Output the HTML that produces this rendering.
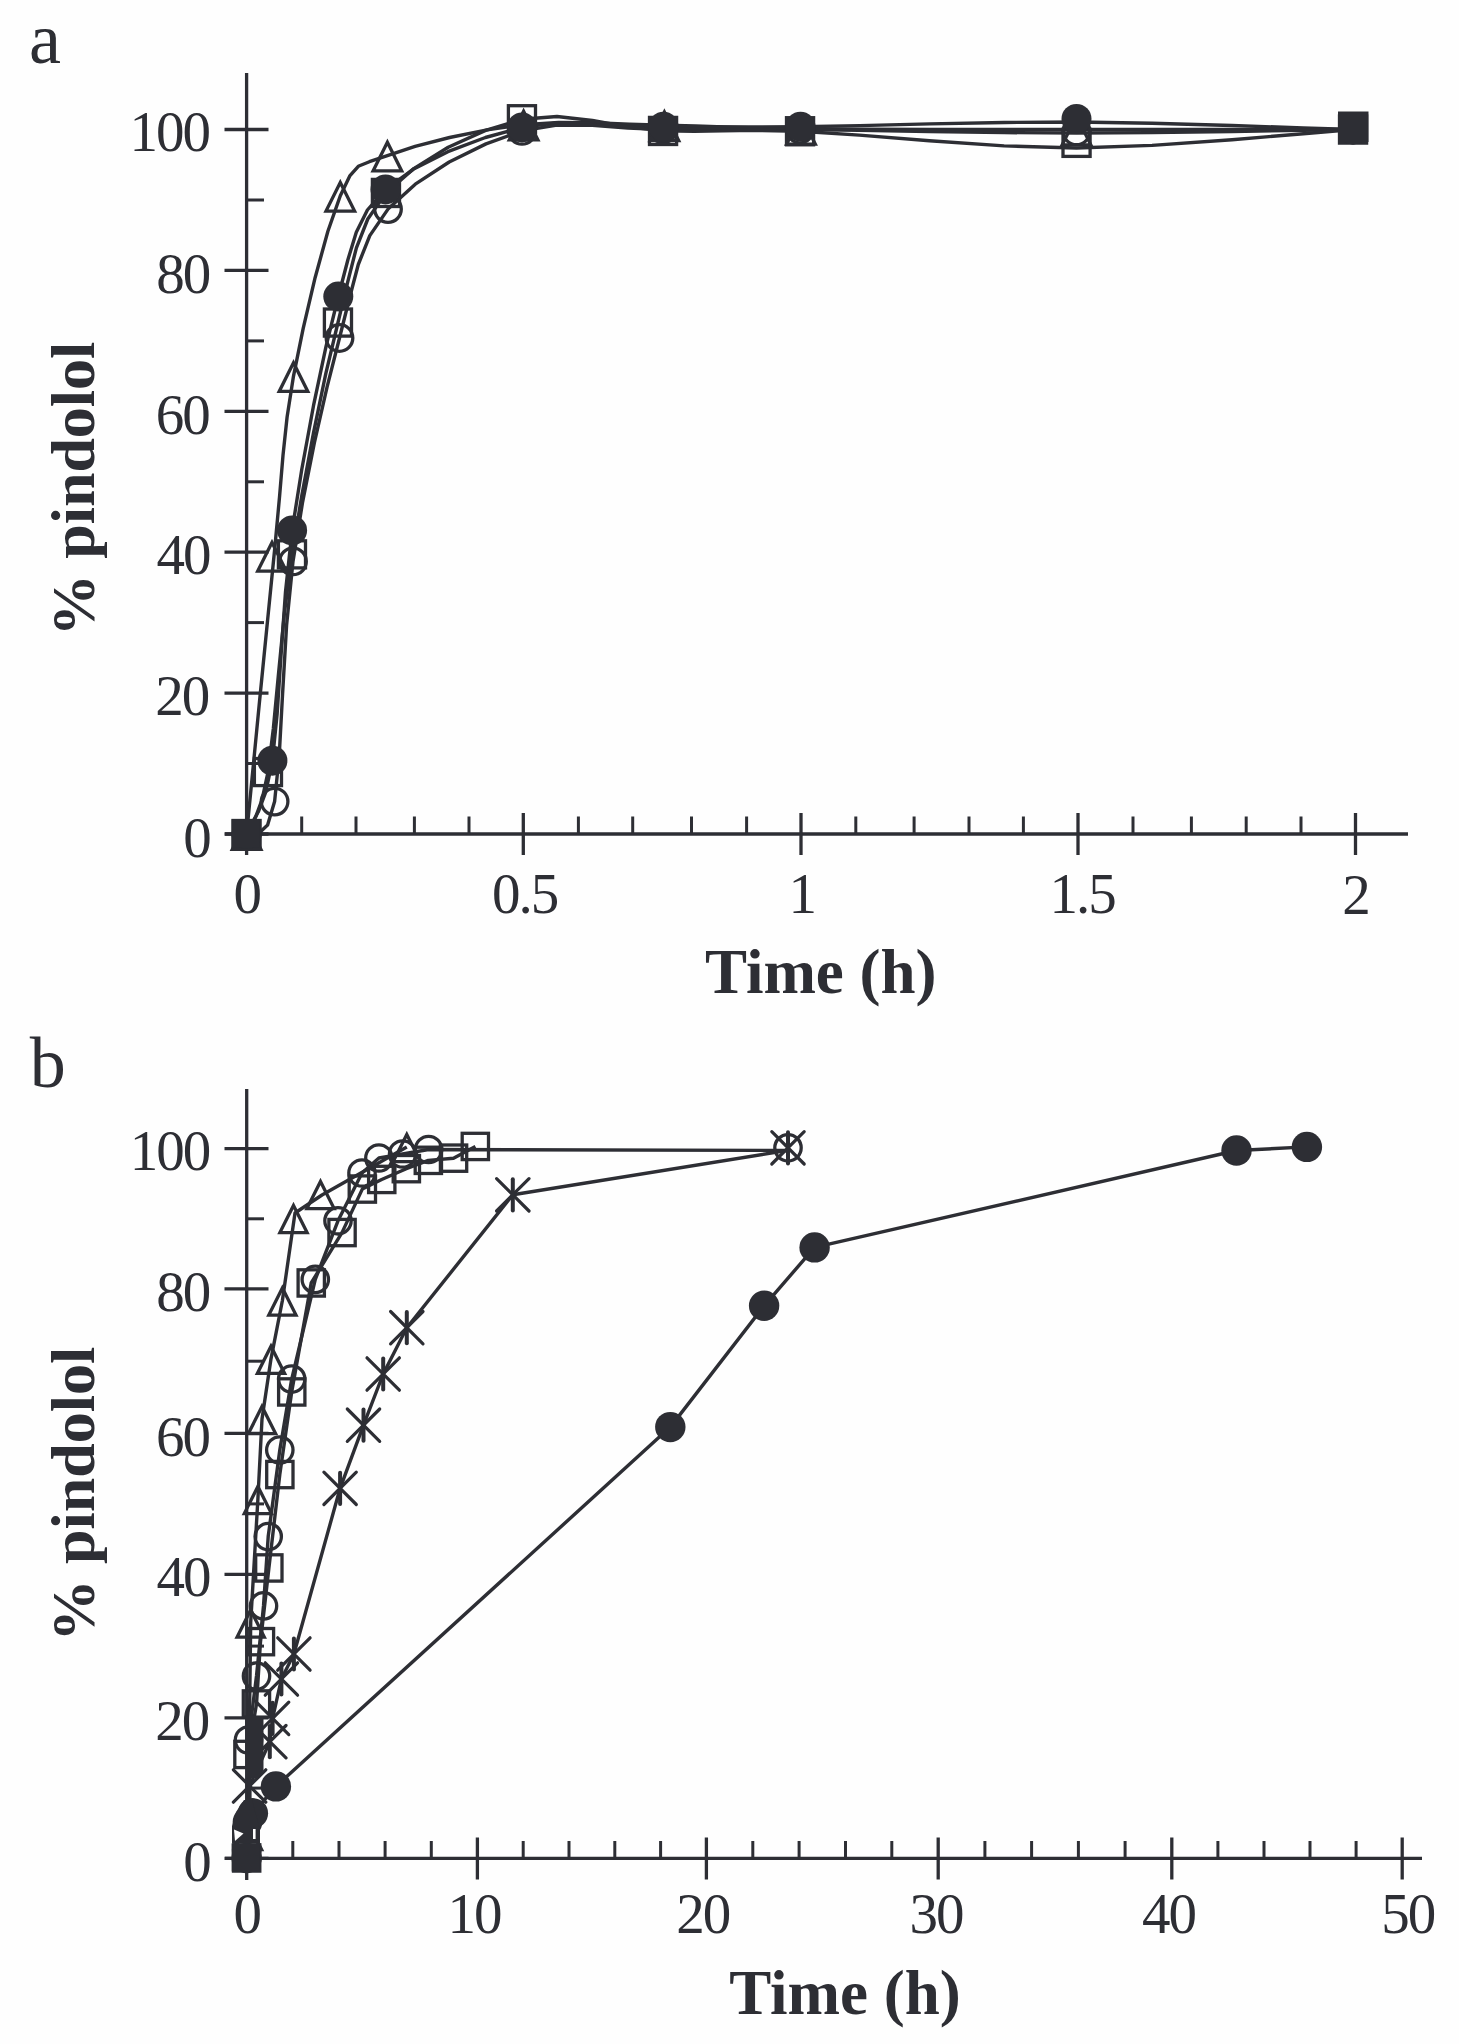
<!DOCTYPE html><html><head><meta charset="utf-8"><style>html,body{margin:0;padding:0;background:#fefefe;}svg{display:block;}text{font-family:"Liberation Serif",serif;fill:#2d2e34;}</style></head><body>
<div id="wrap"><svg width="1459" height="2044" viewBox="0 0 1459 2044">
<rect width="1459" height="2044" fill="#fefefe"/>
<g stroke="#2d2e34" stroke-linecap="butt" fill="none">
<line x1="246.6" y1="73" x2="246.6" y2="855" stroke-width="3.3"/>
<line x1="225" y1="834" x2="1408" y2="834" stroke-width="3.3"/>
<line x1="224.5" y1="834" x2="268.5" y2="834" stroke-width="3.3"/>
<line x1="224.5" y1="693.1" x2="268.5" y2="693.1" stroke-width="3.3"/>
<line x1="224.5" y1="552.2" x2="268.5" y2="552.2" stroke-width="3.3"/>
<line x1="224.5" y1="411.3" x2="268.5" y2="411.3" stroke-width="3.3"/>
<line x1="224.5" y1="270.4" x2="268.5" y2="270.4" stroke-width="3.3"/>
<line x1="224.5" y1="129.5" x2="268.5" y2="129.5" stroke-width="3.3"/>
<line x1="246.6" y1="763.5" x2="264" y2="763.5" stroke-width="3"/>
<line x1="246.6" y1="622.6" x2="264" y2="622.6" stroke-width="3"/>
<line x1="246.6" y1="481.8" x2="264" y2="481.8" stroke-width="3"/>
<line x1="246.6" y1="340.9" x2="264" y2="340.9" stroke-width="3"/>
<line x1="246.6" y1="200" x2="264" y2="200" stroke-width="3"/>
<line x1="301.7" y1="834" x2="301.7" y2="816.5" stroke-width="3"/>
<line x1="356" y1="834" x2="356" y2="816.5" stroke-width="3"/>
<line x1="414.4" y1="834" x2="414.4" y2="816.5" stroke-width="3"/>
<line x1="469" y1="834" x2="469" y2="816.5" stroke-width="3"/>
<line x1="578.4" y1="834" x2="578.4" y2="816.5" stroke-width="3"/>
<line x1="632.7" y1="834" x2="632.7" y2="816.5" stroke-width="3"/>
<line x1="691.5" y1="834" x2="691.5" y2="816.5" stroke-width="3"/>
<line x1="746.6" y1="834" x2="746.6" y2="816.5" stroke-width="3"/>
<line x1="855.8" y1="834" x2="855.8" y2="816.5" stroke-width="3"/>
<line x1="914.1" y1="834" x2="914.1" y2="816.5" stroke-width="3"/>
<line x1="969" y1="834" x2="969" y2="816.5" stroke-width="3"/>
<line x1="1023.4" y1="834" x2="1023.4" y2="816.5" stroke-width="3"/>
<line x1="1133" y1="834" x2="1133" y2="816.5" stroke-width="3"/>
<line x1="1191.4" y1="834" x2="1191.4" y2="816.5" stroke-width="3"/>
<line x1="1246.2" y1="834" x2="1246.2" y2="816.5" stroke-width="3"/>
<line x1="1301" y1="834" x2="1301" y2="816.5" stroke-width="3"/>
<line x1="523.3" y1="813" x2="523.3" y2="855" stroke-width="3.3"/>
<line x1="801" y1="813" x2="801" y2="855" stroke-width="3.3"/>
<line x1="1078" y1="813" x2="1078" y2="855" stroke-width="3.3"/>
<line x1="1355.5" y1="813" x2="1355.5" y2="855" stroke-width="3.3"/>
<path d="M246.6,834 L251.9,779.9 L259.5,701.7 L267.8,618.2 L274.8,548 L279.5,497.2 L283,455.4 L287.1,417 L293.5,376.1 L303.2,328.3 L315.1,277.7 L327.9,231.2 L340.3,195.7 L350,175.6 L358.3,166.3 L369.4,161.7 L387.4,155.6 L415.1,146.4 L449.6,137.5 L487.1,129.9 L523.6,124.6 L558.6,122.4 L594,122.8 L629.4,124.2 L664.4,125.3 L695.6,126 L724.3,127 L757.2,128 L801,128.8 L860.1,129.2 L930,129.4 L1004.3,129.4 L1076.5,129.5 L1152,129.5 L1232,129.5 L1303.3,129.5 L1353,129.5" stroke-width="3.4" fill="none" stroke-linejoin="round"/>
<path d="M246.6,834 L251.4,824.5 L258.3,811.8 L265.8,791.8 L272.4,760.7 L277.1,714.3 L281,655.6 L285.5,591.9 L292.1,530.4 L301.8,469.2 L313.5,405.7 L326.1,346.1 L338.3,296.5 L347.9,259.7 L356.3,232.2 L367.4,210 L385.5,189.4 L413.2,169.3 L447.9,151.7 L485.4,137.5 L522,127.4 L557.1,122.9 L592.7,123.2 L628.3,125.4 L663.5,126.7 L694.8,126.7 L723.6,126.9 L756.6,127 L800.5,126.7 L859.7,125.6 L929.8,123.9 L1004.2,122.5 L1076.5,122 L1152.1,123.2 L1232,125.5 L1303.3,127.9 L1353,129.5" stroke-width="3.4" fill="none" stroke-linejoin="round"/>
<path d="M246.6,834 L251.9,833 L259.4,832.8 L267.6,825.1 L274.6,801.6 L279.2,755.8 L282.6,693.4 L286.6,625.1 L293,561.4 L302.6,502.1 L314.4,442.7 L327.1,386.8 L339.5,338 L349.5,298 L358.3,264.5 L369.8,235.6 L388,209.1 L415.3,184.2 L449.2,162 L486,143.9 L522,130.9 L556.9,125.1 L592.3,125.3 L627.9,128 L663,129.5 L694.3,129.3 L723,129.2 L756,129.2 L800,129.5 L859.3,130.3 L929.5,131.5 L1004.1,132.6 L1076.5,133 L1152.1,132.6 L1232,131.5 L1303.3,130.3 L1353,129.5" stroke-width="3.4" fill="none" stroke-linejoin="round"/>
<path d="M246.6,834 L250.4,826.5 L255.8,816.6 L262,799.9 L268,772 L273.3,728.9 L278.5,673.8 L284.4,613.4 L292,554.3 L301.9,495 L313.5,432.9 L325.8,373.6 L338,322.5 L347.8,281.6 L356.4,247.8 L367.8,219 L386,192.9 L413.7,168.6 L448.2,147.3 L485.6,130.4 L522,119.3 L557,116.5 L592.4,120.5 L627.9,126.8 L663,130.9 L694.3,131.4 L723,130.8 L756,130.3 L800,131.3 L859.3,135.1 L929.5,140.8 L1004.1,145.9 L1076.5,148 L1152.1,145.4 L1232,139.8 L1303.3,133.7 L1353,129.5" stroke-width="3.4" fill="none" stroke-linejoin="round"/>
<rect x="233" y="820.5" width="27.1" height="27.1" fill="none" stroke-width="3.3"/>
<rect x="254.4" y="758.5" width="27.1" height="27.1" fill="none" stroke-width="3.3"/>
<rect x="278.4" y="540.8" width="27.1" height="27.1" fill="none" stroke-width="3.3"/>
<rect x="324.4" y="309" width="27.1" height="27.1" fill="none" stroke-width="3.3"/>
<rect x="372.4" y="179.4" width="27.1" height="27.1" fill="none" stroke-width="3.3"/>
<rect x="508.4" y="105.7" width="27.1" height="27.1" fill="none" stroke-width="3.3"/>
<rect x="649.5" y="117.4" width="27.1" height="27.1" fill="none" stroke-width="3.3"/>
<rect x="786.5" y="117.7" width="27.1" height="27.1" fill="none" stroke-width="3.3"/>
<rect x="1063" y="129.3" width="27.1" height="27.1" fill="none" stroke-width="3.3"/>
<rect x="1339.5" y="116" width="27.1" height="27.1" fill="none" stroke-width="3.3"/>
<circle cx="246.6" cy="834" r="13.3" fill="none" stroke-width="3.3"/>
<circle cx="274.6" cy="801.6" r="13.3" fill="none" stroke-width="3.3"/>
<circle cx="293" cy="561.4" r="13.3" fill="none" stroke-width="3.3"/>
<circle cx="339.5" cy="338" r="13.3" fill="none" stroke-width="3.3"/>
<circle cx="388" cy="209.1" r="13.3" fill="none" stroke-width="3.3"/>
<circle cx="522" cy="130.9" r="13.3" fill="none" stroke-width="3.3"/>
<circle cx="663" cy="129.5" r="13.3" fill="none" stroke-width="3.3"/>
<circle cx="800" cy="129.5" r="13.3" fill="none" stroke-width="3.3"/>
<circle cx="1076.5" cy="131.4" r="13.3" fill="none" stroke-width="3.3"/>
<circle cx="1353" cy="129.5" r="13.3" fill="none" stroke-width="3.3"/>
<path d="M246.6,820.7 L260.9,849.4 L232.3,849.4 Z" fill="none" stroke-width="3.3" stroke-linejoin="miter" stroke-miterlimit="6"/>
<path d="M272,542.4 L286.3,571.1 L257.7,571.1 Z" fill="none" stroke-width="3.3" stroke-linejoin="miter" stroke-miterlimit="6"/>
<path d="M293.5,362.8 L307.8,391.4 L279.2,391.4 Z" fill="none" stroke-width="3.3" stroke-linejoin="miter" stroke-miterlimit="6"/>
<path d="M340.3,182.4 L354.6,211.1 L326,211.1 Z" fill="none" stroke-width="3.3" stroke-linejoin="miter" stroke-miterlimit="6"/>
<path d="M387.4,142.3 L401.7,170.9 L373.1,170.9 Z" fill="none" stroke-width="3.3" stroke-linejoin="miter" stroke-miterlimit="6"/>
<path d="M523.6,111.3 L537.9,139.9 L509.3,139.9 Z" fill="none" stroke-width="3.3" stroke-linejoin="miter" stroke-miterlimit="6"/>
<path d="M664.4,112 L678.7,140.6 L650.1,140.6 Z" fill="none" stroke-width="3.3" stroke-linejoin="miter" stroke-miterlimit="6"/>
<path d="M801,115.5 L815.3,144.1 L786.7,144.1 Z" fill="none" stroke-width="3.3" stroke-linejoin="miter" stroke-miterlimit="6"/>
<path d="M1076.5,116.2 L1090.8,144.8 L1062.2,144.8 Z" fill="none" stroke-width="3.3" stroke-linejoin="miter" stroke-miterlimit="6"/>
<circle cx="246.6" cy="834" r="15" fill="#2d2e34" stroke="none"/>
<circle cx="272.4" cy="760.7" r="15" fill="#2d2e34" stroke="none"/>
<circle cx="292.1" cy="530.4" r="15" fill="#2d2e34" stroke="none"/>
<circle cx="338.3" cy="296.5" r="15" fill="#2d2e34" stroke="none"/>
<circle cx="385.5" cy="189.4" r="15" fill="#2d2e34" stroke="none"/>
<circle cx="522" cy="127.4" r="15" fill="#2d2e34" stroke="none"/>
<circle cx="663.5" cy="126.7" r="15" fill="#2d2e34" stroke="none"/>
<circle cx="800.5" cy="126.7" r="15" fill="#2d2e34" stroke="none"/>
<circle cx="1076.5" cy="118.9" r="15" fill="#2d2e34" stroke="none"/>
<circle cx="1353" cy="129.5" r="15" fill="#2d2e34" stroke="none"/>
<rect x="231.7" y="819.5" width="28" height="28" fill="#2d2e34" stroke="none"/>
<rect x="1338" y="111.5" width="30.5" height="30.5" fill="#2d2e34" stroke="none"/>
<line x1="246.7" y1="1089" x2="246.7" y2="1880" stroke-width="3.3"/>
<line x1="225" y1="1858.4" x2="1422" y2="1858.4" stroke-width="3.3"/>
<line x1="224.5" y1="1148.6" x2="268.5" y2="1148.6" stroke-width="3.3"/>
<line x1="224.5" y1="1288.9" x2="268.5" y2="1288.9" stroke-width="3.3"/>
<line x1="224.5" y1="1433.4" x2="268.5" y2="1433.4" stroke-width="3.3"/>
<line x1="224.5" y1="1574.4" x2="268.5" y2="1574.4" stroke-width="3.3"/>
<line x1="224.5" y1="1717.8" x2="268.5" y2="1717.8" stroke-width="3.3"/>
<line x1="224.5" y1="1858.4" x2="268.5" y2="1858.4" stroke-width="3.3"/>
<line x1="246.7" y1="1788.1" x2="264" y2="1788.1" stroke-width="3"/>
<line x1="246.7" y1="1646.1" x2="264" y2="1646.1" stroke-width="3"/>
<line x1="246.7" y1="1503.9" x2="264" y2="1503.9" stroke-width="3"/>
<line x1="246.7" y1="1361.2" x2="264" y2="1361.2" stroke-width="3"/>
<line x1="246.7" y1="1218.8" x2="264" y2="1218.8" stroke-width="3"/>
<line x1="292.8" y1="1858.4" x2="292.8" y2="1841" stroke-width="3"/>
<line x1="339" y1="1858.4" x2="339" y2="1841" stroke-width="3"/>
<line x1="385.1" y1="1858.4" x2="385.1" y2="1841" stroke-width="3"/>
<line x1="431.3" y1="1858.4" x2="431.3" y2="1841" stroke-width="3"/>
<line x1="523.2" y1="1858.4" x2="523.2" y2="1841" stroke-width="3"/>
<line x1="569" y1="1858.4" x2="569" y2="1841" stroke-width="3"/>
<line x1="614.8" y1="1858.4" x2="614.8" y2="1841" stroke-width="3"/>
<line x1="660.6" y1="1858.4" x2="660.6" y2="1841" stroke-width="3"/>
<line x1="752.8" y1="1858.4" x2="752.8" y2="1841" stroke-width="3"/>
<line x1="799.1" y1="1858.4" x2="799.1" y2="1841" stroke-width="3"/>
<line x1="845.5" y1="1858.4" x2="845.5" y2="1841" stroke-width="3"/>
<line x1="891.8" y1="1858.4" x2="891.8" y2="1841" stroke-width="3"/>
<line x1="984.9" y1="1858.4" x2="984.9" y2="1841" stroke-width="3"/>
<line x1="1031.6" y1="1858.4" x2="1031.6" y2="1841" stroke-width="3"/>
<line x1="1078.4" y1="1858.4" x2="1078.4" y2="1841" stroke-width="3"/>
<line x1="1125.1" y1="1858.4" x2="1125.1" y2="1841" stroke-width="3"/>
<line x1="1217.9" y1="1858.4" x2="1217.9" y2="1841" stroke-width="3"/>
<line x1="1264" y1="1858.4" x2="1264" y2="1841" stroke-width="3"/>
<line x1="1310" y1="1858.4" x2="1310" y2="1841" stroke-width="3"/>
<line x1="1356.1" y1="1858.4" x2="1356.1" y2="1841" stroke-width="3"/>
<line x1="477.4" y1="1837.5" x2="477.4" y2="1879.5" stroke-width="3.3"/>
<line x1="706.4" y1="1837.5" x2="706.4" y2="1879.5" stroke-width="3.3"/>
<line x1="938.2" y1="1837.5" x2="938.2" y2="1879.5" stroke-width="3.3"/>
<line x1="1171.8" y1="1837.5" x2="1171.8" y2="1879.5" stroke-width="3.3"/>
<line x1="1402.2" y1="1837.5" x2="1402.2" y2="1879.5" stroke-width="3.3"/>
<path d="M246.7,1858 L248,1835 L250.7,1622.5 L257.9,1499 L262,1419 L271,1358.8 L282.4,1300.5 L295,1213 L322,1195 L406.8,1147" stroke-width="3.4" fill="none" stroke-linejoin="round"/>
<path d="M246.7,1850 L247.5,1822 L248.5,1740 L256.5,1676 L263.5,1605.9 L268.2,1536.6 L279.8,1450 L291.7,1379.1 L315.3,1279.4 L338,1220.8 L362,1173 L378.9,1158 L402.6,1154 L428.6,1149.5 L788,1150.4" stroke-width="3.4" fill="none" stroke-linejoin="round"/>
<path d="M246.7,1858 L248,1754.5 L256.5,1704 L260.5,1641.7 L268.9,1568 L279.8,1474.6 L291.7,1392 L311.2,1283 L342,1232.6 L362.3,1189.1 L381.7,1179.5 L406.3,1168.7 L428.3,1160.4 L453.5,1158.2 L475.4,1146.5" stroke-width="3.4" fill="none" stroke-linejoin="round"/>
<path d="M247,1850 L249.6,1786 L269.8,1741.7 L272.6,1718.4 L281.4,1679 L293.9,1654 L340.1,1488.3 L363.5,1425.2 L383.2,1374 L406.8,1327.7 L512.8,1194.8 L788,1150.4" stroke-width="3.4" fill="none" stroke-linejoin="round"/>
<path d="M246.7,1858 L252.9,1813.3 L275.9,1786.4 L670.3,1427.1 L764.1,1305.8 L814.6,1247.4 L1236.5,1150.5 L1306.9,1146.9" stroke-width="3.4" fill="none" stroke-linejoin="round"/>
<rect x="233.5" y="1844.8" width="26.3" height="26.3" fill="none" stroke-width="3.3"/>
<rect x="234.8" y="1741.3" width="26.3" height="26.3" fill="none" stroke-width="3.3"/>
<rect x="243.3" y="1690.8" width="26.3" height="26.3" fill="none" stroke-width="3.3"/>
<rect x="247.3" y="1628.5" width="26.3" height="26.3" fill="none" stroke-width="3.3"/>
<rect x="255.7" y="1554.8" width="26.3" height="26.3" fill="none" stroke-width="3.3"/>
<rect x="266.7" y="1461.4" width="26.3" height="26.3" fill="none" stroke-width="3.3"/>
<rect x="278.6" y="1378.8" width="26.3" height="26.3" fill="none" stroke-width="3.3"/>
<rect x="298.1" y="1269.8" width="26.3" height="26.3" fill="none" stroke-width="3.3"/>
<rect x="328.9" y="1219.4" width="26.3" height="26.3" fill="none" stroke-width="3.3"/>
<rect x="349.2" y="1175.9" width="26.3" height="26.3" fill="none" stroke-width="3.3"/>
<rect x="368.6" y="1166.3" width="26.3" height="26.3" fill="none" stroke-width="3.3"/>
<rect x="393.2" y="1155.5" width="26.3" height="26.3" fill="none" stroke-width="3.3"/>
<rect x="415.2" y="1147.2" width="26.3" height="26.3" fill="none" stroke-width="3.3"/>
<rect x="440.4" y="1145" width="26.3" height="26.3" fill="none" stroke-width="3.3"/>
<rect x="462.2" y="1133.3" width="26.3" height="26.3" fill="none" stroke-width="3.3"/>
<circle cx="246.7" cy="1850" r="13.2" fill="none" stroke-width="3.3"/>
<circle cx="247.5" cy="1822" r="13.2" fill="none" stroke-width="3.3"/>
<circle cx="248.5" cy="1740" r="13.2" fill="none" stroke-width="3.3"/>
<circle cx="256.5" cy="1676" r="13.2" fill="none" stroke-width="3.3"/>
<circle cx="263.5" cy="1605.9" r="13.2" fill="none" stroke-width="3.3"/>
<circle cx="268.2" cy="1536.6" r="13.2" fill="none" stroke-width="3.3"/>
<circle cx="279.8" cy="1450" r="13.2" fill="none" stroke-width="3.3"/>
<circle cx="291.7" cy="1379.1" r="13.2" fill="none" stroke-width="3.3"/>
<circle cx="315.3" cy="1279.4" r="13.2" fill="none" stroke-width="3.3"/>
<circle cx="338" cy="1220.8" r="13.2" fill="none" stroke-width="3.3"/>
<circle cx="362" cy="1173" r="13.2" fill="none" stroke-width="3.3"/>
<circle cx="378.9" cy="1158" r="13.2" fill="none" stroke-width="3.3"/>
<circle cx="402.6" cy="1154" r="13.2" fill="none" stroke-width="3.3"/>
<circle cx="428.6" cy="1149.5" r="13.2" fill="none" stroke-width="3.3"/>
<circle cx="788" cy="1147.8" r="13.2" fill="none" stroke-width="3.3"/>
<path d="M248,1822.5 L261.6,1849.6 L234.4,1849.6 Z" fill="none" stroke-width="3.3" stroke-linejoin="miter" stroke-miterlimit="6"/>
<path d="M250.7,1610 L264.3,1637.1 L237.1,1637.1 Z" fill="none" stroke-width="3.3" stroke-linejoin="miter" stroke-miterlimit="6"/>
<path d="M257.9,1486.5 L271.5,1513.6 L244.3,1513.6 Z" fill="none" stroke-width="3.3" stroke-linejoin="miter" stroke-miterlimit="6"/>
<path d="M262,1406.5 L275.6,1433.6 L248.4,1433.6 Z" fill="none" stroke-width="3.3" stroke-linejoin="miter" stroke-miterlimit="6"/>
<path d="M271,1346.2 L284.6,1373.4 L257.4,1373.4 Z" fill="none" stroke-width="3.3" stroke-linejoin="miter" stroke-miterlimit="6"/>
<path d="M282.4,1288 L296,1315.1 L268.8,1315.1 Z" fill="none" stroke-width="3.3" stroke-linejoin="miter" stroke-miterlimit="6"/>
<path d="M293.5,1205.5 L307.1,1232.6 L279.9,1232.6 Z" fill="none" stroke-width="3.3" stroke-linejoin="miter" stroke-miterlimit="6"/>
<path d="M320.5,1181.5 L334.1,1208.6 L306.9,1208.6 Z" fill="none" stroke-width="3.3" stroke-linejoin="miter" stroke-miterlimit="6"/>
<path d="M406.8,1134.5 L420.4,1161.6 L393.2,1161.6 Z" fill="none" stroke-width="3.3" stroke-linejoin="miter" stroke-miterlimit="6"/>
<path d="M233.4,1769.8 L265.8,1802.2 M265.8,1769.8 L233.4,1802.2" fill="none" stroke-width="3.2" stroke-linecap="round"/>
<path d="M249.6,1770.4 L249.6,1801.6" fill="none" stroke-width="4" stroke-linecap="round"/>
<path d="M253.6,1725.5 L286,1757.9 M286,1725.5 L253.6,1757.9" fill="none" stroke-width="3.2" stroke-linecap="round"/>
<path d="M269.8,1726.1 L269.8,1757.3" fill="none" stroke-width="4" stroke-linecap="round"/>
<path d="M256.4,1702.2 L288.8,1734.6 M288.8,1702.2 L256.4,1734.6" fill="none" stroke-width="3.2" stroke-linecap="round"/>
<path d="M272.6,1702.8 L272.6,1734" fill="none" stroke-width="4" stroke-linecap="round"/>
<path d="M265.2,1662.8 L297.6,1695.2 M297.6,1662.8 L265.2,1695.2" fill="none" stroke-width="3.2" stroke-linecap="round"/>
<path d="M281.4,1663.4 L281.4,1694.6" fill="none" stroke-width="4" stroke-linecap="round"/>
<path d="M277.7,1637.8 L310.1,1670.2 M310.1,1637.8 L277.7,1670.2" fill="none" stroke-width="3.2" stroke-linecap="round"/>
<path d="M293.9,1638.4 L293.9,1669.6" fill="none" stroke-width="4" stroke-linecap="round"/>
<path d="M323.9,1472.1 L356.3,1504.5 M356.3,1472.1 L323.9,1504.5" fill="none" stroke-width="3.2" stroke-linecap="round"/>
<path d="M340.1,1472.7 L340.1,1503.9" fill="none" stroke-width="4" stroke-linecap="round"/>
<path d="M347.3,1409 L379.7,1441.4 M379.7,1409 L347.3,1441.4" fill="none" stroke-width="3.2" stroke-linecap="round"/>
<path d="M363.5,1409.6 L363.5,1440.8" fill="none" stroke-width="4" stroke-linecap="round"/>
<path d="M367,1357.8 L399.4,1390.2 M399.4,1357.8 L367,1390.2" fill="none" stroke-width="3.2" stroke-linecap="round"/>
<path d="M383.2,1358.4 L383.2,1389.6" fill="none" stroke-width="4" stroke-linecap="round"/>
<path d="M390.6,1311.5 L423,1343.9 M423,1311.5 L390.6,1343.9" fill="none" stroke-width="3.2" stroke-linecap="round"/>
<path d="M406.8,1312.1 L406.8,1343.3" fill="none" stroke-width="4" stroke-linecap="round"/>
<path d="M496.6,1178.6 L529,1211 M529,1178.6 L496.6,1211" fill="none" stroke-width="3.2" stroke-linecap="round"/>
<path d="M512.8,1179.2 L512.8,1210.4" fill="none" stroke-width="4" stroke-linecap="round"/>
<path d="M771.8,1131.6 L804.2,1164 M804.2,1131.6 L771.8,1164" fill="none" stroke-width="3.2" stroke-linecap="round"/>
<path d="M788,1132.2 L788,1163.4" fill="none" stroke-width="4" stroke-linecap="round"/>
<circle cx="246.7" cy="1858" r="15.2" fill="#2d2e34" stroke="none"/>
<circle cx="252.9" cy="1813.3" r="15.2" fill="#2d2e34" stroke="none"/>
<circle cx="275.9" cy="1786.4" r="15.2" fill="#2d2e34" stroke="none"/>
<circle cx="670.3" cy="1427.1" r="15.2" fill="#2d2e34" stroke="none"/>
<circle cx="764.1" cy="1305.8" r="15.2" fill="#2d2e34" stroke="none"/>
<circle cx="814.6" cy="1247.4" r="15.2" fill="#2d2e34" stroke="none"/>
<circle cx="1236.5" cy="1150.5" r="15.2" fill="#2d2e34" stroke="none"/>
<circle cx="1306.9" cy="1146.9" r="15.2" fill="#2d2e34" stroke="none"/>
<rect x="231.7" y="1843.5" width="28" height="28" fill="#2d2e34" stroke="none"/>
<path d="M245,1716 L263.5,1716 L263.5,1770 L258,1778 L246,1778 Z" fill="#2d2e34" stroke="none"/>
<path d="M232,1843 L232,1826 L236,1812 L244,1800 L252,1800 L260,1830 L260,1843 Z" fill="#2d2e34" stroke="none"/>
<path d="M234,1829.5 L243.5,1833.5 L235,1841 Z" fill="#fefefe" stroke="none"/>
<path d="M253,1829 L255.6,1829 L255.6,1839 L253,1839 Z" fill="#fefefe" stroke="none"/>
</g>
<text x="28.9" y="63" font-size="72" text-anchor="start" font-weight="normal">a</text>
<text x="29.8" y="1086.8" font-size="72" text-anchor="start" font-weight="normal">b</text>
<text x="209.8" y="856.5" font-size="57" text-anchor="end" font-weight="normal" letter-spacing="-2">0</text>
<text x="208.2" y="714.9" font-size="57" text-anchor="end" font-weight="normal" letter-spacing="-2">20</text>
<text x="209.5" y="574.2" font-size="57" text-anchor="end" font-weight="normal" letter-spacing="-2">40</text>
<text x="208.7" y="433.8" font-size="57" text-anchor="end" font-weight="normal" letter-spacing="-2">60</text>
<text x="209.3" y="292.9" font-size="57" text-anchor="end" font-weight="normal" letter-spacing="-2">80</text>
<text x="209.1" y="150.8" font-size="57" text-anchor="end" font-weight="normal" letter-spacing="-2">100</text>
<text x="246.8" y="913.2" font-size="57" text-anchor="middle" font-weight="normal" letter-spacing="-2">0</text>
<text x="524.5" y="913.1" font-size="57" text-anchor="middle" font-weight="normal" letter-spacing="-2">0.5</text>
<text x="801.8" y="913" font-size="57" text-anchor="middle" font-weight="normal" letter-spacing="-2">1</text>
<text x="1082.2" y="913.4" font-size="57" text-anchor="middle" font-weight="normal" letter-spacing="-2">1.5</text>
<text x="1355.5" y="913.5" font-size="57" text-anchor="middle" font-weight="normal" letter-spacing="-2">2</text>
<text x="820.8" y="992.8" font-size="63" text-anchor="middle" font-weight="bold">Time (h)</text>
<text x="0" y="0" font-size="62" text-anchor="middle" font-weight="bold" transform="translate(94,489) rotate(-90)">% pindolol</text>
<text x="209.2" y="1170" font-size="57" text-anchor="end" font-weight="normal" letter-spacing="-2">100</text>
<text x="209.3" y="1310.9" font-size="57" text-anchor="end" font-weight="normal" letter-spacing="-2">80</text>
<text x="209" y="1455.9" font-size="57" text-anchor="end" font-weight="normal" letter-spacing="-2">60</text>
<text x="209.5" y="1596.4" font-size="57" text-anchor="end" font-weight="normal" letter-spacing="-2">40</text>
<text x="208.2" y="1740" font-size="57" text-anchor="end" font-weight="normal" letter-spacing="-2">20</text>
<text x="209.8" y="1881.1" font-size="57" text-anchor="end" font-weight="normal" letter-spacing="-2">0</text>
<text x="246.7" y="1933.1" font-size="57" text-anchor="middle" font-weight="normal" letter-spacing="-2">0</text>
<text x="473.9" y="1932.8" font-size="57" text-anchor="middle" font-weight="normal" letter-spacing="-2">10</text>
<text x="702.7" y="1933" font-size="57" text-anchor="middle" font-weight="normal" letter-spacing="-2">20</text>
<text x="936" y="1933.2" font-size="57" text-anchor="middle" font-weight="normal" letter-spacing="-2">30</text>
<text x="1168.6" y="1933.3" font-size="57" text-anchor="middle" font-weight="normal" letter-spacing="-2">40</text>
<text x="1407.8" y="1933.3" font-size="57" text-anchor="middle" font-weight="normal" letter-spacing="-2">50</text>
<text x="845" y="2013.7" font-size="63" text-anchor="middle" font-weight="bold">Time (h)</text>
<text x="0" y="0" font-size="62" text-anchor="middle" font-weight="bold" transform="translate(94,1494.1) rotate(-90)">% pindolol</text>
</svg></div></body></html>
